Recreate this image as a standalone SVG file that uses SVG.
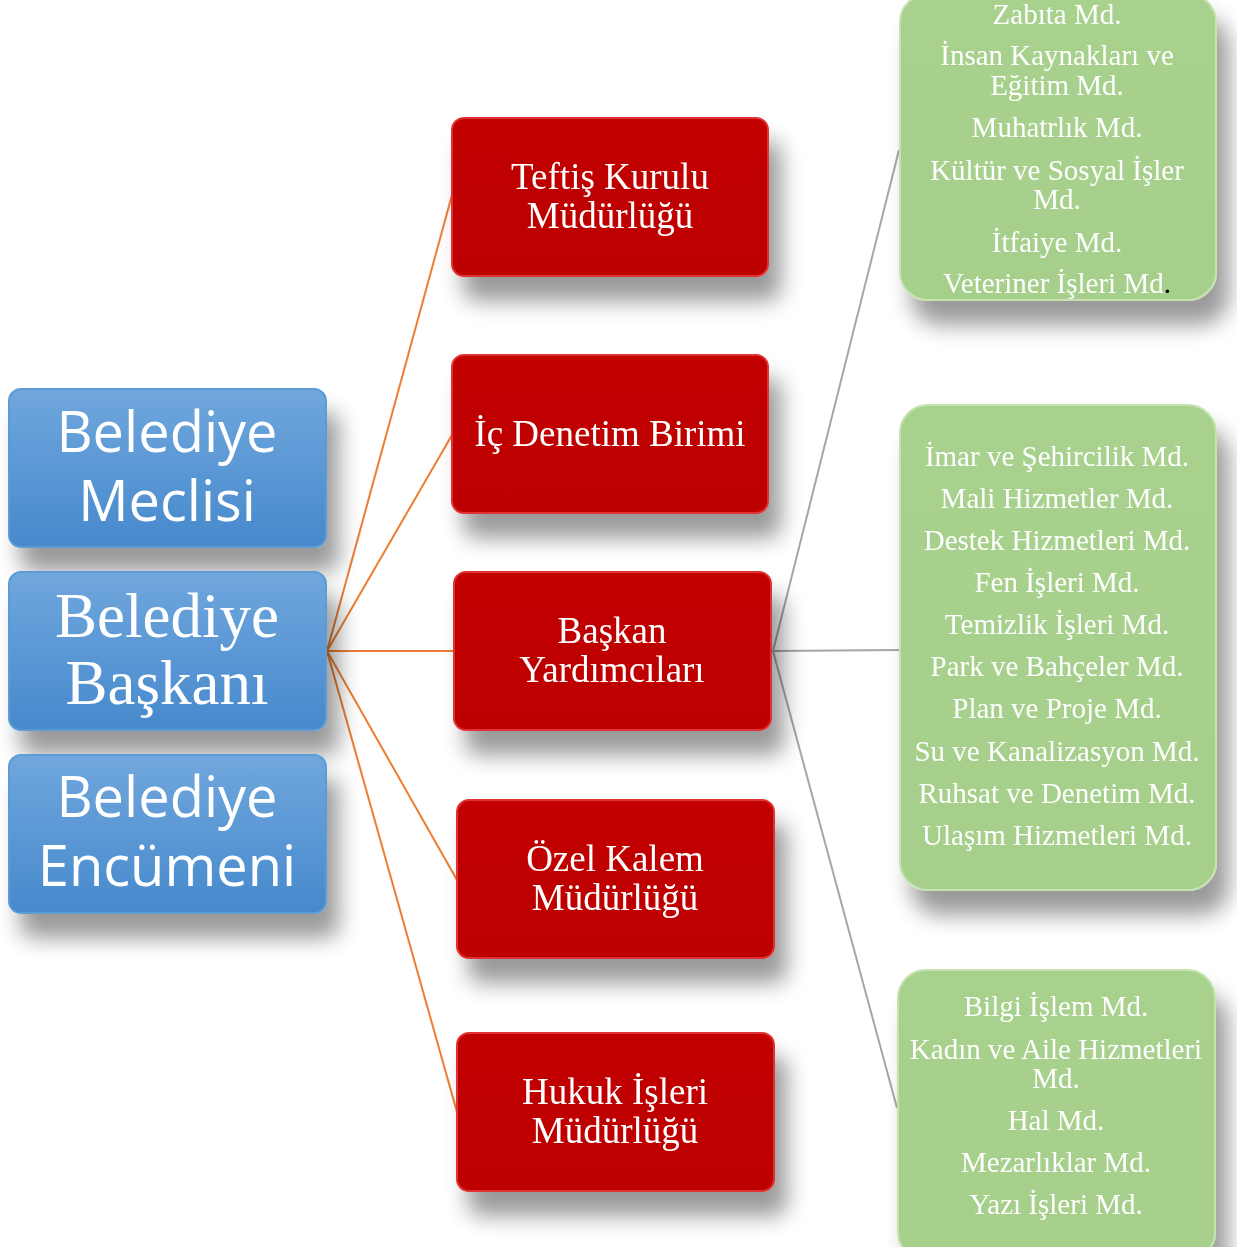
<svg xmlns="http://www.w3.org/2000/svg" width="1237" height="1247" viewBox="0 0 1237 1247">
<defs>
<linearGradient id="gBlue" x1="0" y1="0" x2="0" y2="1"><stop offset="0" stop-color="#70a7dd"/><stop offset="1" stop-color="#4689cc"/></linearGradient>
<linearGradient id="gRed" x1="0" y1="0" x2="0" y2="1"><stop offset="0" stop-color="#c20000"/><stop offset="1" stop-color="#bc0000"/></linearGradient>
<linearGradient id="gGreen" x1="0" y1="0" x2="0" y2="1"><stop offset="0" stop-color="#a9d18e"/><stop offset="1" stop-color="#a6cf8b"/></linearGradient>
<filter id="shadow" x="-20%" y="-20%" width="150%" height="150%">
<feGaussianBlur in="SourceAlpha" stdDeviation="11"/>
<feOffset dx="12" dy="24" result="b"/>
<feComponentTransfer><feFuncA type="linear" slope="0.4"/></feComponentTransfer>
<feMerge><feMergeNode/><feMergeNode in="SourceGraphic"/></feMerge>
</filter>
</defs>
<style>
.blue{fill:url(#gBlue);stroke:#5b9bd5;stroke-width:2}
.red{fill:url(#gRed);stroke:#e03030;stroke-width:2}
.green{fill:url(#gGreen);stroke:#c4e3ae;stroke-width:2}
.ts{font-family:"Open Sans","Noto Sans",sans-serif;fill:#fff;text-anchor:middle;font-size:56px}
.tb{font-family:"Liberation Serif","Times New Roman",serif;fill:#fff;text-anchor:middle;font-size:63px}
.tr{font-family:"Liberation Serif","Times New Roman",serif;fill:#fff;text-anchor:middle;font-size:37px}
.tg{font-family:"Liberation Serif","Times New Roman",serif;fill:#fff;text-anchor:middle;font-size:29px}
.co{stroke:#ed7d31;stroke-width:2;fill:none}
.cg{stroke:#a6a6a6;stroke-width:2;fill:none}
</style>
<g id="connectors">
<path class="co" d="M327 651 L452 195"/>
<path class="co" d="M327 651 L452 435"/>
<path class="co" d="M327 651 L454 651"/>
<path class="co" d="M327 651 L457 880"/>
<path class="co" d="M327 651 L457 1112"/>
<path class="cg" d="M773 651 L899 150"/>
<path class="cg" d="M773 651 L899 650"/>
<path class="cg" d="M773 651 L897 1108"/>
</g>
<g id="meclis" filter="url(#shadow)">
<rect class="blue" x="9" y="389" width="317" height="158" rx="12"/>
<text class="ts" x="167" y="452">Belediye</text>
<text class="ts" x="167" y="521">Meclisi</text>
</g>
<g id="baskan" filter="url(#shadow)">
<rect class="blue" x="9" y="572" width="317" height="158" rx="12"/>
<text class="tb" x="167" y="637">Belediye</text>
<text class="tb" x="167" y="704">Başkanı</text>
</g>
<g id="encumen" filter="url(#shadow)">
<rect class="blue" x="9" y="755" width="317" height="158" rx="12"/>
<text class="ts" x="167" y="817">Belediye</text>
<text class="ts" x="167" y="886">Encümeni</text>
</g>
<g id="teftis" filter="url(#shadow)">
<rect class="red" x="452" y="118" width="316" height="158" rx="12"/>
<text class="tr" x="610" y="189">Teftiş Kurulu</text>
<text class="tr" x="610" y="228">Müdürlüğü</text>
</g>
<g id="icdenetim" filter="url(#shadow)">
<rect class="red" x="452" y="355" width="316" height="158" rx="12"/>
<text class="tr" x="610" y="446">İç Denetim Birimi</text>
</g>
<g id="baskanyard" filter="url(#shadow)">
<rect class="red" x="454" y="572" width="317" height="158" rx="12"/>
<text class="tr" x="612" y="643">Başkan</text>
<text class="tr" x="612" y="682">Yardımcıları</text>
</g>
<g id="ozelkalem" filter="url(#shadow)">
<rect class="red" x="457" y="800" width="317" height="158" rx="12"/>
<text class="tr" x="615" y="871">Özel Kalem</text>
<text class="tr" x="615" y="910">Müdürlüğü</text>
</g>
<g id="hukuk" filter="url(#shadow)">
<rect class="red" x="457" y="1033" width="317" height="158" rx="12"/>
<text class="tr" x="615" y="1104">Hukuk İşleri</text>
<text class="tr" x="615" y="1143">Müdürlüğü</text>
</g>
<g id="green1" filter="url(#shadow)">
<rect class="green" x="900" y="-6" width="316" height="306" rx="28"/>
<text class="tg" x="1057" y="24">Zabıta Md.</text>
<text class="tg" x="1057" y="65">İnsan Kaynakları ve</text>
<text class="tg" x="1057" y="95">Eğitim Md.</text>
<text class="tg" x="1057" y="137">Muhatrlık Md.</text>
<text class="tg" x="1057" y="180">Kültür ve Sosyal İşler</text>
<text class="tg" x="1057" y="209">Md.</text>
<text class="tg" x="1057" y="252">İtfaiye Md.</text>
<text class="tg" x="1057" y="293">Veteriner İşleri Md<tspan fill="#000">.</tspan></text>
</g>
<g id="green2" filter="url(#shadow)">
<rect class="green" x="900" y="405" width="316" height="485" rx="28"/>
<text class="tg" x="1057" y="466">İmar ve Şehircilik Md.</text>
<text class="tg" x="1057" y="508">Mali Hizmetler Md.</text>
<text class="tg" x="1057" y="550">Destek Hizmetleri Md.</text>
<text class="tg" x="1057" y="592">Fen İşleri Md.</text>
<text class="tg" x="1057" y="634">Temizlik İşleri Md.</text>
<text class="tg" x="1057" y="676">Park ve Bahçeler Md.</text>
<text class="tg" x="1057" y="718">Plan ve Proje Md.</text>
<text class="tg" x="1057" y="761">Su ve Kanalizasyon Md.</text>
<text class="tg" x="1057" y="803">Ruhsat ve Denetim Md.</text>
<text class="tg" x="1057" y="845">Ulaşım Hizmetleri Md.</text>
</g>
<g id="green3" filter="url(#shadow)">
<rect class="green" x="898" y="970" width="317" height="290" rx="28"/>
<text class="tg" x="1056" y="1016">Bilgi İşlem Md.</text>
<text class="tg" x="1056" y="1059">Kadın ve Aile Hizmetleri</text>
<text class="tg" x="1056" y="1088">Md.</text>
<text class="tg" x="1056" y="1130">Hal Md.</text>
<text class="tg" x="1056" y="1172">Mezarlıklar Md.</text>
<text class="tg" x="1056" y="1214">Yazı İşleri Md.</text>
</g>
</svg>
